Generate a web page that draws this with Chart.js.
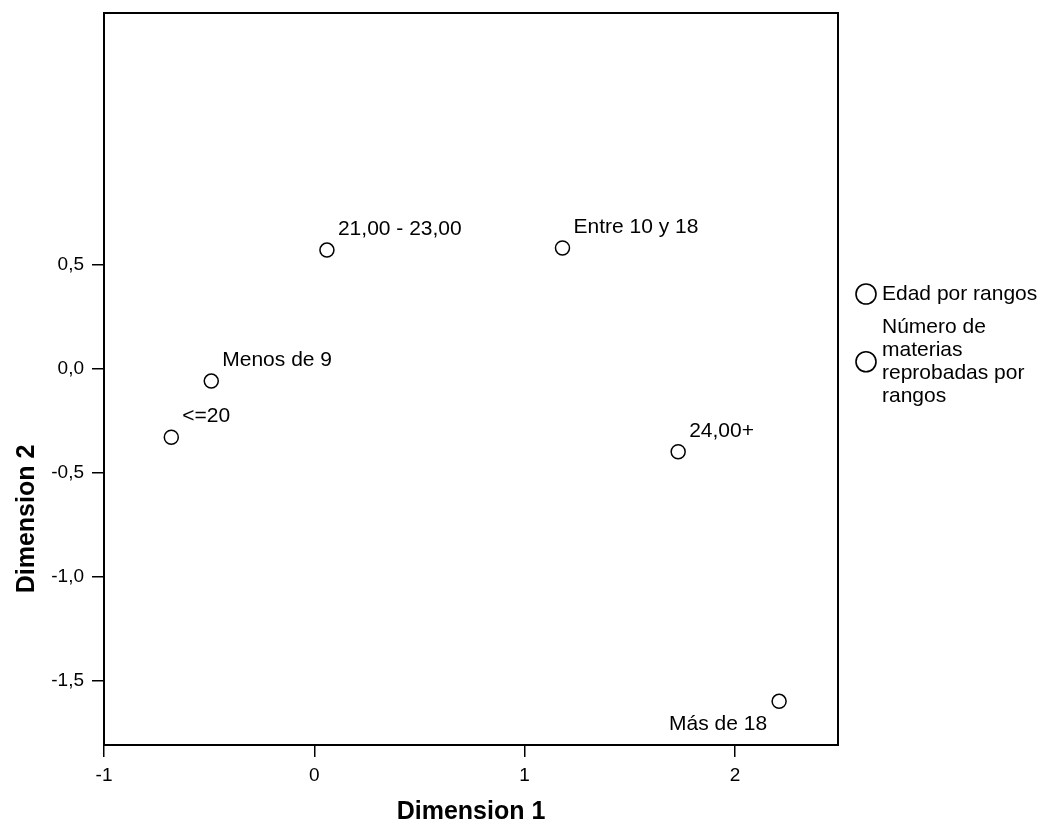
<!DOCTYPE html>
<html>
<head>
<meta charset="utf-8">
<script src="https://cdn.jsdelivr.net/npm/chart.js@4"></script>
<style>
  body { margin: 0; background: #fff; }
  #wrap { width: 1053px; height: 825px; position: relative; }
</style>
</head>
<body>
<div id="wrap"><canvas id="chart"></canvas></div>
<script>
// Data
const edadNames = ['<=20', '21,00 - 23,00', '24,00+'];
const edadX = [-0.68, 0.06, 1.73];
const edadY = [-0.33, 0.57, -0.40];

const materiasNames = ['Menos de 9', 'Entre 10 y 18', 'Más de 18'];
const materiasX = [-0.49, 1.18, 2.21];
const materiasY = [-0.06, 0.58, -1.60];

const seriesNames = ['Edad por rangos', 'Número de materias reprobadas por rangos'];
const xTicks = [-1, 0, 1, 2];
const yTicks = [-1.5, -1.0, -0.5, 0.0, 0.5];
const xTitle = 'Dimension 1';
const yTitle = 'Dimension 2';

// labels drawn below-left of their point instead of above-right
const belowLeft = ['Más de 18'];

const FONT = '"Liberation Sans", Arial, sans-serif';

function toPoints(xs, ys) {
    return xs.map((x, i) => ({ x: x, y: ys[i] }));
}

function wrapText(ctx, text, maxWidth) {
    var words = text.split(' ');
    var lines = [];
    var line = '';
    words.forEach(w => {
        var test = line ? line + ' ' + w : w;
        if (line && ctx.measureText(test).width > maxWidth) {
            lines.push(line);
            line = w;
        } else {
            line = test;
        }
    });
    if (line) lines.push(line);
    return lines;
}

// Draws frame, point labels, axis titles and legend
const extras = {
    id: 'extras',
    afterDatasetsDraw(chart) {
        const ctx = chart.ctx;
        const area = chart.chartArea;
        ctx.save();

        // frame
        ctx.strokeStyle = '#000';
        ctx.lineWidth = 2;
        ctx.strokeRect(area.left, area.top, area.right - area.left, area.bottom - area.top);

        // point labels
        ctx.font = '21px ' + FONT;
        ctx.fillStyle = '#000';
        ctx.textBaseline = 'middle';
        chart.data.datasets.forEach((ds, i) => {
            chart.getDatasetMeta(i).data.forEach((pt, j) => {
                const name = ds.pointNames[j];
                if (belowLeft.includes(name)) {
                    ctx.textAlign = 'right';
                    ctx.fillText(name, pt.x - 12, pt.y + 23);
                } else {
                    ctx.textAlign = 'left';
                    ctx.fillText(name, pt.x + 11, pt.y - 21);
                }
            });
        });

        // axis titles
        ctx.font = 'bold 25px ' + FONT;
        ctx.textAlign = 'center';
        ctx.fillText(xTitle, (area.left + area.right) / 2, 812);
        ctx.save();
        ctx.translate(27, 519);
        ctx.rotate(-Math.PI / 2);
        ctx.fillText(yTitle, 0, 0);
        ctx.restore();

        // legend
        ctx.font = '21px ' + FONT;
        ctx.textAlign = 'left';
        ctx.lineWidth = 1.6;
        var y = 294;
        chart.data.datasets.forEach((ds, i) => {
            const lines = wrapText(ctx, ds.label, 170);
            const lh = 22.7;
            const cy = y + (lines.length - 1) * lh / 2;
            ctx.beginPath();
            ctx.arc(866, cy, 10, 0, Math.PI * 2);
            ctx.fillStyle = '#fff';
            ctx.fill();
            ctx.stroke();
            ctx.fillStyle = '#000';
            lines.forEach((l, k) => ctx.fillText(l, 882, y + k * lh));
            y += lines.length * lh + 11;
        });

        ctx.restore();
    }
};

var ctx = document.getElementById('chart').getContext('2d');
var chart = new Chart(ctx, {
    type: 'scatter',
    data: {
        datasets: [{
            label: seriesNames[0],
            data: toPoints(edadX, edadY),
            pointNames: edadNames,
            pointRadius: 7,
            pointBorderWidth: 1.5,
            borderColor: '#000',
            backgroundColor: '#fff',
            pointHoverRadius: 7
        }, {
            label: seriesNames[1],
            data: toPoints(materiasX, materiasY),
            pointNames: materiasNames,
            pointRadius: 7,
            pointBorderWidth: 1.5,
            borderColor: '#000',
            backgroundColor: '#fff',
            pointHoverRadius: 7
        }]
    },
    options: {
        responsive: true,
        maintainAspectRatio: false,
        animation: false,
        layout: { padding: { left: 0, top: 0, right: 215, bottom: 0 } },
        plugins: {
            legend: { display: false },
            tooltip: { enabled: false }
        },
        scales: {
            x: {
                type: 'linear',
                min: -1,
                max: 2.49,
                afterFit: s => { s.height = 80; },
                afterBuildTicks: s => { s.ticks = xTicks.map(v => ({ value: v })); },
                grid: { display: true, drawOnChartArea: false, drawTicks: true, tickLength: 12, color: '#000', lineWidth: 1.5 },
                border: { display: true, color: '#000', width: 2 },
                ticks: {
                    color: '#000',
                    font: { family: FONT, size: 19 },
                    padding: 7,
                    maxRotation: 0,
                    callback: v => String(v)
                }
            },
            y: {
                type: 'linear',
                min: -1.81,
                max: 1.71,
                afterFit: s => {
                    s.width = 104;
                    s.paddingTop = 13;
                },
                afterBuildTicks: s => { s.ticks = yTicks.map(v => ({ value: v })); },
                grid: { display: true, drawOnChartArea: false, drawTicks: true, tickLength: 12, color: '#000', lineWidth: 1.5 },
                border: { display: true, color: '#000', width: 2 },
                ticks: {
                    color: '#000',
                    font: { family: FONT, size: 19 },
                    padding: 8,
                    callback: v => v.toFixed(1).replace('.', ',')
                }
            }
        }
    },
    plugins: [extras]
});
</script>
</body>
</html>
